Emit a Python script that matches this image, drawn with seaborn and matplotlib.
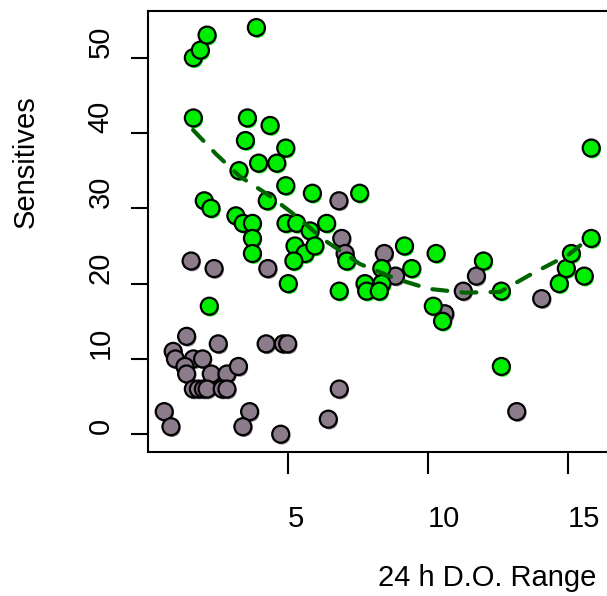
import matplotlib
matplotlib.use("Agg")
import matplotlib.pyplot as plt
import matplotlib.transforms as mtransforms
import numpy as np
import pandas as pd
import seaborn as sns

# Sites with sensitive taxa (green) and without (grey)
green_x = [1.62, 1.87, 2.11, 3.87, 1.62, 3.55, 4.36, 3.48, 4.92, 3.95, 4.60, 3.25,
           4.92, 5.87, 7.56, 4.26, 2.01, 2.25, 3.14, 3.40, 3.73, 3.73, 3.73, 4.93,
           5.31, 5.79, 6.38, 5.25, 5.61, 5.96, 5.21, 7.10, 5.01, 6.83, 7.75, 7.81,
           2.19, 9.16, 10.29, 9.42, 8.35, 8.35, 8.26, 11.98, 12.62, 10.19, 10.52,
           12.62, 14.69, 14.94, 15.12, 15.58, 15.83, 15.83]
green_y = [50, 51, 53, 54, 42, 42, 41, 39, 38, 36, 36, 35,
           33, 32, 32, 31, 31, 30, 29, 28, 28, 26, 24, 28,
           28, 27, 28, 25, 24, 25, 23, 23, 20, 19, 20, 19,
           17, 25, 24, 22, 22, 20, 19, 23, 19, 17, 15,
           9, 20, 22, 24, 21, 26, 38]

grey_x = [6.82, 6.92, 7.04, 4.28, 2.36, 1.54, 1.38, 0.90, 0.98, 2.51, 4.22, 4.83,
          4.99, 1.62, 1.95, 1.32, 1.38, 2.26, 2.82, 3.23, 1.62, 1.80, 1.98, 2.11,
          2.65, 2.82, 6.83, 0.58, 0.82, 3.63, 3.39, 6.44, 4.74, 8.44, 8.84, 11.26,
          11.73, 10.60, 13.17, 14.06]
grey_y = [31, 26, 24, 22, 22, 23, 13, 11, 10, 12, 12, 12,
          12, 10, 10, 9, 8, 8, 8, 9, 6, 6, 6, 6,
          6, 6, 6, 3, 1, 3, 1, 2, 0, 24, 21, 19,
          21, 16, 3, 18]

# Smoothed trend through the green sites
trend_x = [1.61, 2.43, 3.29, 4.29, 5.32, 6.25, 7.57, 8.89, 10.04, 11.32, 12.57,
           13.71, 15.00, 15.82]
trend_y = [40.4, 37.2, 34.2, 31.8, 28.9, 25.9, 22.6, 20.6, 19.3, 18.8, 18.9,
           21.3, 23.8, 26.2]

x_ticks = [5, 10, 15]
y_ticks = [0, 10, 20, 30, 40, 50]

GREEN = "#00EE00"
GREY = "#8B7B8B"
TREND = "#006400"

df = pd.DataFrame({
    "range": grey_x + green_x,
    "sensitives": grey_y + green_y,
    "group": ["grey"] * len(grey_x) + ["green"] * len(green_x),
})
palette = {"green": GREEN, "grey": GREY}

sns.set_style("white")
plt.rcParams["font.family"] = ["Liberation Sans", "DejaVu Sans"]
plt.rcParams["text.color"] = "black"
plt.rcParams["xtick.color"] = "black"
plt.rcParams["ytick.color"] = "black"
plt.rcParams["axes.labelcolor"] = "black"

W, H = 607, 596
fig = plt.figure(figsize=(W / 100, H / 100), dpi=100)
ax = fig.add_axes([148 / W, (H - 452) / H, (610 - 148) / W, (452 - 11) / H])

# soft drop shadow under each point
sns.scatterplot(data=df, x="range", y="sensitives", hue="group", palette=palette,
                s=150, linewidth=0, legend=False, ax=ax)
shadow = ax.collections[-1]
shadow.set_offset_transform(
    ax.transData + mtransforms.ScaledTranslation(1.2 / 100, -1.8 / 100, fig.dpi_scale_trans))

sns.scatterplot(data=df, x="range", y="sensitives", hue="group", palette=palette,
                s=150, edgecolor="black", linewidth=1.6, legend=False, ax=ax)

sns.lineplot(x=trend_x, y=trend_y, sort=False, estimator=None, color=TREND,
             linewidth=3, linestyle=(0, (3.6, 3.4)), dash_capstyle="round", ax=ax)

ax.set_xlim(0, 16.5)
ax.set_ylim(-2.36, 56.2)
ax.set_xticks(x_ticks)
ax.set_yticks(y_ticks)
ax.set_xticklabels([str(v) for v in x_ticks], ha="left")
ax.set_yticklabels([str(v) for v in y_ticks], rotation=90, va="bottom")
ax.set_xlabel("")
ax.set_ylabel("")

for side in ["left", "bottom", "top", "right"]:
    ax.spines[side].set_visible(True)
    ax.spines[side].set_color("black")
    ax.spines[side].set_linewidth(1.5)

ax.tick_params(axis="x", direction="out", length=16, width=1.5, color="black",
               labelsize=21, pad=22.5, bottom=True, labelcolor="black")
ax.tick_params(axis="y", direction="out", length=12.2, width=1.5, color="black",
               labelsize=21, pad=12, left=True, labelcolor="black")

fig.text(487 / W, (H - 578) / H, "24 h D.O. Range", ha="center", va="center", fontsize=21)
fig.text(26 / W, (H - 162) / H, "Sensitives", ha="center", va="center",
         rotation=90, fontsize=21)

fig.savefig("out.png", dpi=100)
